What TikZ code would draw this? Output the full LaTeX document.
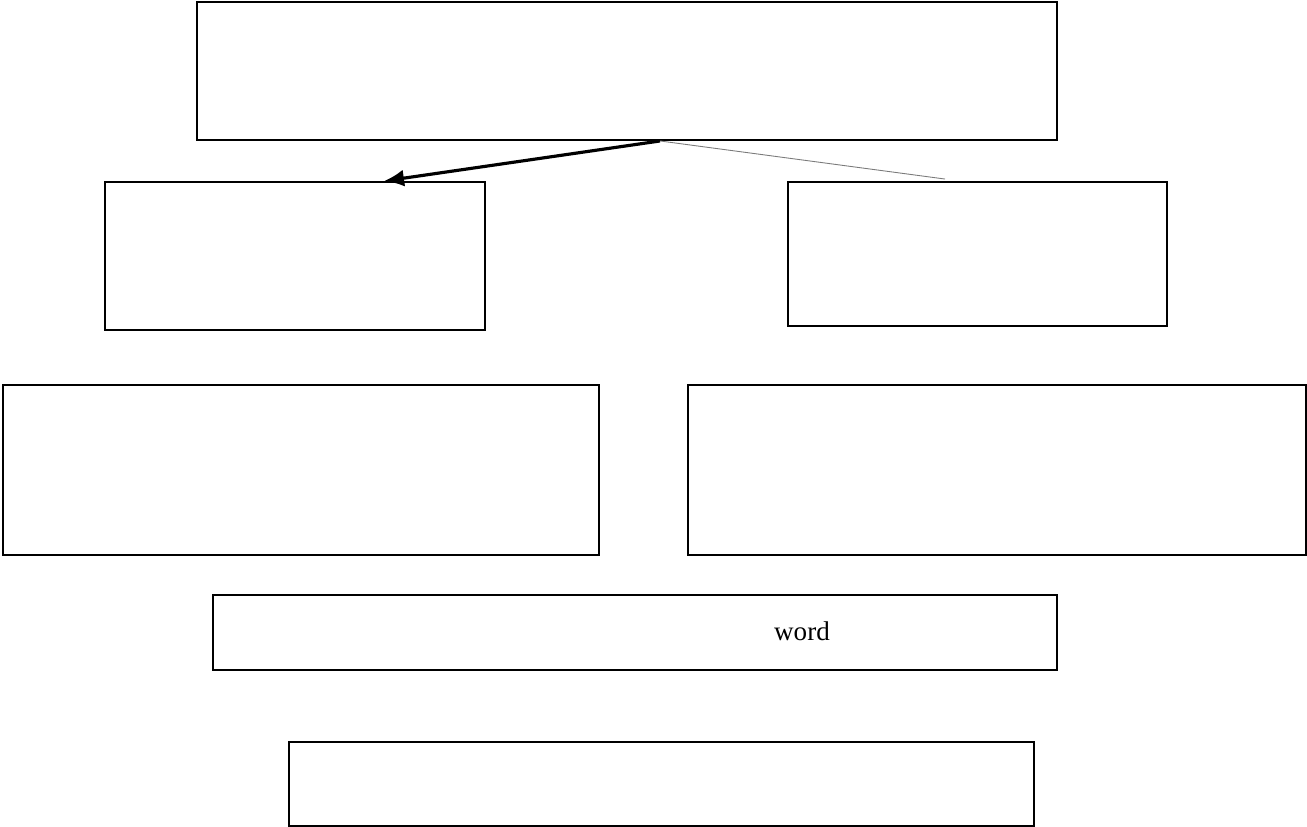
\documentclass[tikz,border=0pt]{standalone}
\usepackage{fontspec}
\setmainfont{Liberation Serif}
\usepackage{tikz}
\usetikzlibrary{arrows.meta,positioning,calc}
\definecolor{ink}{HTML}{000000}
\definecolor{thin}{HTML}{7A7A7A}
\tikzset{
  box/.style={draw=ink, line width=1.1pt, fill=white, inner sep=0pt},
  arr/.style={-{Latex[length=4mm,width=3.4mm]}, line width=1.8pt, draw=ink},
  link/.style={line width=0.5pt, draw=thin},
  lab/.style={font=\fontsize{15.4}{18}\selectfont, text=ink, inner sep=0pt},
}
\begin{document}
\begin{tikzpicture}
    \useasboundingbox (0,0) rectangle (26.14,-16.54);
    \node[box, minimum width=17.2cm, minimum height=2.76cm] (top) at (12.54,-1.42) {};
    \node[box, minimum width=7.6cm, minimum height=2.96cm] (left2) at (5.90,-5.12) {};
    \node[box, minimum width=7.58cm, minimum height=2.88cm] (right2) at (19.55,-5.08) {};
    \node[box, minimum width=11.92cm, minimum height=3.4cm] (left3) at (6.02,-9.40) {};
    \node[box, minimum width=12.36cm, minimum height=3.4cm] (right3) at (19.94,-9.40) {};
    \node[box, minimum width=16.88cm, minimum height=1.5cm] (word) at (12.70,-12.65) {};
    \node[lab] (wordlab) at (16.04,-12.62) {word};
    \node[box, minimum width=14.9cm, minimum height=1.68cm] (bottom) at (13.23,-15.68) {};
    \coordinate (split) at ([xshift=0.66cm]top.south);
    \draw[arr] (split) -- ([xshift=1.78cm]left2.north);
    \draw[link] (split) -- ([xshift=-0.65cm,yshift=0.04cm]right2.north);
  \end{tikzpicture}
\end{document}
